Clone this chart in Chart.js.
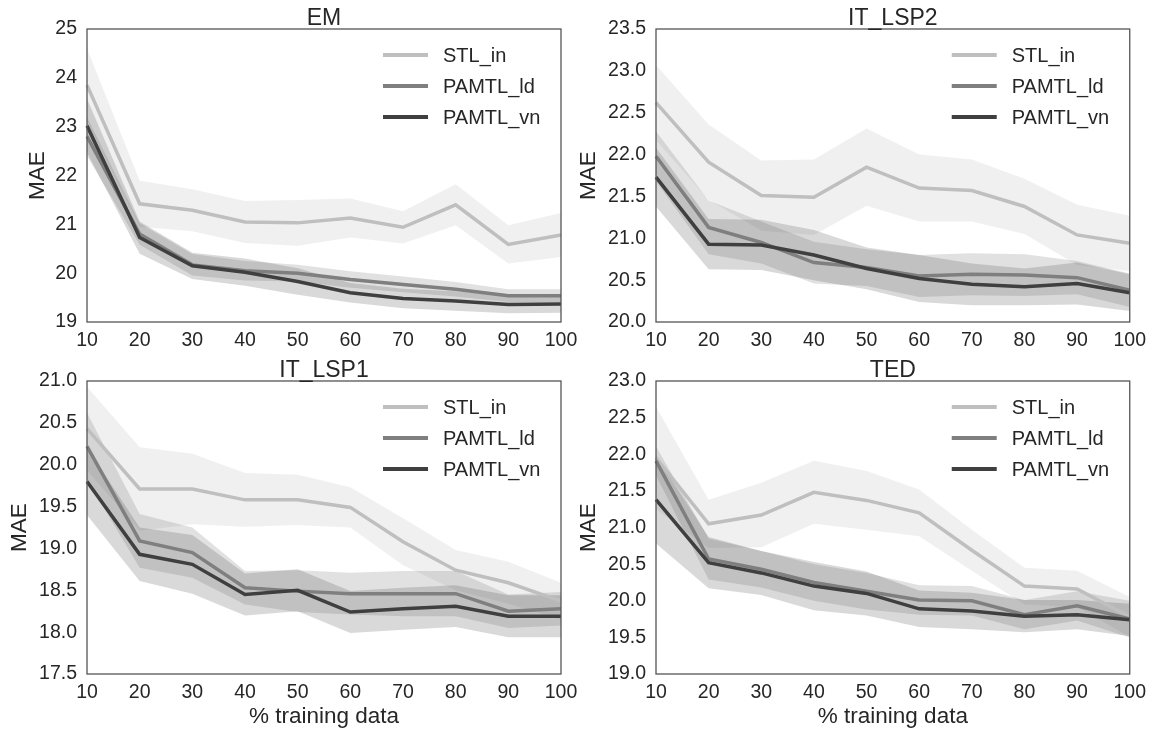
<!DOCTYPE html>
<html>
<head>
<meta charset="utf-8">
<script src="https://cdn.jsdelivr.net/npm/chart.js@4.4.1/dist/chart.umd.min.js"></script>
<style>
  body { margin: 0; background: #fff; }
  #wrap { position: relative; width: 1153px; height: 733px; overflow: hidden; }
  canvas { position: absolute; }
</style>
</head>
<body>
<div id="wrap"></div>
<script>
'use strict';

// x axis: % of training data
const xPct = [10, 20, 30, 40, 50, 60, 70, 80, 90, 100];
const seriesNames = ['STL_in', 'PAMTL_ld', 'PAMTL_vn'];
const panelTitles = ['EM', 'IT_LSP2', 'IT_LSP1', 'TED'];

// EM
const emStl = [23.85, 21.42, 21.29, 21.05, 21.03, 21.13, 20.94, 21.40, 20.59, 20.78];
const emStlErr = [0.75, 0.47, 0.43, 0.43, 0.47, 0.40, 0.33, 0.42, 0.39, 0.45];
const emLd = [22.80, 20.80, 20.17, 20.05, 20.00, 19.87, 19.77, 19.67, 19.54, 19.54];
const emLdErr = [0.40, 0.22, 0.22, 0.20, 0.17, 0.17, 0.16, 0.15, 0.13, 0.13];
const emVn = [23.02, 20.73, 20.15, 20.02, 19.83, 19.60, 19.48, 19.43, 19.36, 19.37];
const emVnErr = [0.55, 0.33, 0.27, 0.28, 0.27, 0.20, 0.20, 0.20, 0.18, 0.18];

// IT_LSP2
const lsp2Stl = [22.62, 21.91, 21.51, 21.49, 21.85, 21.60, 21.57, 21.38, 21.04, 20.94];
const lsp2StlErr = [0.45, 0.45, 0.42, 0.45, 0.46, 0.40, 0.37, 0.33, 0.36, 0.33];
const lsp2Ld = [21.98, 21.13, 20.95, 20.71, 20.65, 20.55, 20.57, 20.56, 20.53, 20.38];
const lsp2LdErr = [0.30, 0.32, 0.25, 0.25, 0.22, 0.25, 0.25, 0.25, 0.20, 0.20];
const lsp2Vn = [21.73, 20.93, 20.92, 20.80, 20.64, 20.52, 20.45, 20.42, 20.46, 20.35];
const lsp2VnErr = [0.35, 0.30, 0.30, 0.30, 0.25, 0.28, 0.25, 0.22, 0.25, 0.22];

// IT_LSP1
const lsp1Stl = [20.43, 19.71, 19.71, 19.58, 19.58, 19.49, 19.08, 18.74, 18.59, 18.37];
const lsp1StlErr = [0.50, 0.50, 0.42, 0.32, 0.30, 0.24, 0.28, 0.24, 0.25, 0.22];
const lsp1Ld = [20.22, 19.09, 18.95, 18.53, 18.49, 18.46, 18.46, 18.46, 18.25, 18.28];
const lsp1LdErr = [0.40, 0.32, 0.30, 0.20, 0.25, 0.25, 0.27, 0.27, 0.20, 0.20];
const lsp1Vn = [19.80, 18.93, 18.81, 18.45, 18.50, 18.24, 18.28, 18.31, 18.19, 18.19];
const lsp1VnErr = [0.40, 0.32, 0.35, 0.25, 0.25, 0.25, 0.25, 0.25, 0.25, 0.25];

// TED
const tedStl = [21.95, 21.05, 21.17, 21.48, 21.37, 21.20, 20.69, 20.20, 20.16, 19.78];
const tedStlErr = [0.70, 0.33, 0.44, 0.43, 0.40, 0.32, 0.28, 0.25, 0.25, 0.27];
const tedLd = [21.91, 20.57, 20.43, 20.25, 20.13, 20.01, 20.00, 19.81, 19.93, 19.75];
const tedLdErr = [0.20, 0.28, 0.25, 0.25, 0.25, 0.20, 0.20, 0.20, 0.20, 0.25];
const tedVn = [21.38, 20.52, 20.38, 20.20, 20.10, 19.89, 19.86, 19.79, 19.81, 19.74];
const tedVnErr = [0.60, 0.35, 0.30, 0.33, 0.30, 0.25, 0.25, 0.22, 0.20, 0.22];

// y axis ranges per panel
const yMins = [19, 20, 17.5, 19];
const yMaxs = [25, 23.5, 21, 23];
const ySteps = [1, 0.5, 0.5, 0.5];
const yDecimals = [0, 1, 1, 1];

const panelData = [
  [[emStl, emStlErr], [emLd, emLdErr], [emVn, emVnErr]],
  [[lsp2Stl, lsp2StlErr], [lsp2Ld, lsp2LdErr], [lsp2Vn, lsp2VnErr]],
  [[lsp1Stl, lsp1StlErr], [lsp1Ld, lsp1LdErr], [lsp1Vn, lsp1VnErr]],
  [[tedStl, tedStlErr], [tedLd, tedLdErr], [tedVn, tedVnErr]]
];

const lineColors = ['#bfbfbf', '#7f7f7f', '#3f3f3f'];
const bandColors = ['rgba(191,191,191,0.23)', 'rgba(127,127,127,0.23)', 'rgba(63,63,63,0.2)'];
const textColor = '#262626';
const fontFamily = '"Liberation Sans", Arial, sans-serif';

// canvas boxes and paddings (page pixels)
const boxes = [
  { left: 0, top: 0, w: 590, h: 352, padL: 24.5, padR: 29, yW: 62.5, xH: 30, xTitle: false },
  { left: 570, top: 0, w: 583, h: 352, padL: 5.5, padR: 23, yW: 80.5, xH: 30, xTitle: false },
  { left: 0, top: 352, w: 590, h: 381, padL: 6, padR: 29, yW: 81, xH: 59, xTitle: true },
  { left: 570, top: 352, w: 583, h: 381, padL: 5.5, padR: 23, yW: 80.5, xH: 59, xTitle: true }
];

function upper(vals, errs) {
  let out = [];
  for (let i = 0; i < vals.length; i++) out.push(vals[i] + errs[i]);
  return out;
}

function lower(vals, errs) {
  let out = [];
  for (let i = 0; i < vals.length; i++) out.push(vals[i] - errs[i]);
  return out;
}

// frame round the plot area, title and legend inside the plot
const framePlugin = {
  id: 'frame',
  afterDraw(chart) {
    const a = chart.chartArea;
    const ctx = chart.ctx;
    ctx.save();
    ctx.strokeStyle = '#555';
    ctx.lineWidth = 1.3;
    ctx.strokeRect(a.left, a.top, a.right - a.left, a.bottom - a.top);

    ctx.fillStyle = textColor;
    ctx.font = '23px ' + fontFamily;
    ctx.textAlign = 'center';
    ctx.textBaseline = 'alphabetic';
    ctx.fillText(chart.options.plugins.frame.title, (a.left + a.right) / 2, a.top - 4);

    ctx.font = '20px ' + fontFamily;
    ctx.textAlign = 'left';
    ctx.textBaseline = 'middle';
    let row = 0;
    chart.data.datasets.forEach(ds => {
      if (!ds.legendLine) return;
      let y = a.top + 26 + row * 31;
      ctx.strokeStyle = ds.borderColor;
      ctx.lineWidth = 4;
      ctx.beginPath();
      ctx.moveTo(a.right - 178, y);
      ctx.lineTo(a.right - 133, y);
      ctx.stroke();
      ctx.fillText(ds.label, a.right - 118, y + 1);
      row++;
    });
    ctx.restore();
  }
};

function makePanel(p) {
  const box = boxes[p];
  let canvas = document.createElement('canvas');
  canvas.width = box.w;
  canvas.height = box.h;
  canvas.style.left = box.left + 'px';
  canvas.style.top = box.top + 'px';
  document.getElementById('wrap').appendChild(canvas);

  let datasets = [];
  for (let s = 0; s < seriesNames.length; s++) {
    let vals = panelData[p][s][0];
    let errs = panelData[p][s][1];
    datasets.push({
      label: seriesNames[s] + ' hi',
      data: upper(vals, errs),
      borderWidth: 0,
      borderColor: 'transparent',
      pointRadius: 0,
      fill: false,
      order: 20 - s
    });
    datasets.push({
      label: seriesNames[s] + ' lo',
      data: lower(vals, errs),
      borderWidth: 0,
      borderColor: 'transparent',
      backgroundColor: bandColors[s],
      pointRadius: 0,
      fill: '-1',
      order: 20 - s
    });
  }
  for (let s = 0; s < seriesNames.length; s++) {
    datasets.push({
      label: seriesNames[s],
      data: panelData[p][s][0],
      borderColor: lineColors[s],
      borderWidth: 3.5,
      pointRadius: 0,
      fill: false,
      tension: 0,
      legendLine: true,
      order: 3 - s
    });
  }

  new Chart(canvas.getContext('2d'), {
    type: 'line',
    data: { labels: xPct, datasets: datasets },
    plugins: [framePlugin],
    options: {
      responsive: false,
      animation: false,
      devicePixelRatio: 1,
      layout: { padding: { left: box.padL, right: box.padR, top: 29, bottom: 0 } },
      plugins: {
        legend: { display: false },
        tooltip: { enabled: false },
        frame: { title: panelTitles[p] }
      },
      scales: {
        x: {
          type: 'category',
          offset: false,
          grid: { display: false, drawTicks: false },
          border: { display: false },
          ticks: { color: textColor, font: { size: 19.5, family: fontFamily }, padding: 7, maxRotation: 0, autoSkip: false },
          title: { display: box.xTitle, text: '% training data', color: textColor, font: { size: 22.5, family: fontFamily }, padding: { top: 0, bottom: 3 } },
          afterFit: s => { s.height = box.xH; }
        },
        y: {
          min: yMins[p],
          max: yMaxs[p],
          grid: { display: false, drawTicks: false },
          border: { display: false },
          ticks: {
            stepSize: ySteps[p],
            color: textColor,
            font: { size: 19.5, family: fontFamily },
            padding: 10,
            callback: v => Number(v).toFixed(yDecimals[p])
          },
          title: { display: true, text: 'MAE', color: textColor, font: { size: 22.5, family: fontFamily }, padding: { top: 0, bottom: 0 } },
          afterFit: s => { s.width = box.yW; }
        }
      }
    }
  });
}

for (let p = 0; p < panelTitles.length; p++) {
  makePanel(p);
}
</script>
</body>
</html>
